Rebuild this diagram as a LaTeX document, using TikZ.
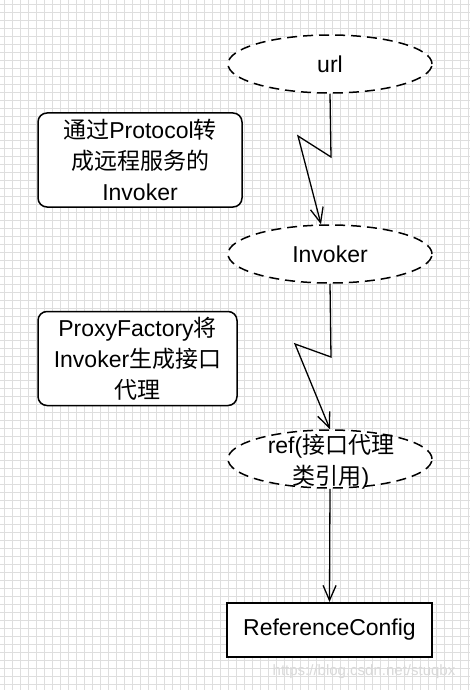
\documentclass[tikz,border=0pt]{standalone}
\usepackage{fontspec}
\setmainfont{Liberation Sans}
\newfontfamily\cjk{Noto Sans CJK SC}
\newcommand\zh[1]{{\cjk #1}}
\usetikzlibrary{arrows.meta,shapes.geometric}
\definecolor{gridc}{RGB}{222,222,222}
\begin{document}
\begin{tikzpicture}[x=1pt,y=-1pt,
  txt/.style={font=\fontsize{23}{31}\selectfont, align=center, inner sep=0pt},
  dashell/.style={draw, ellipse, dash pattern=on 10pt off 6pt, line width=1.5pt, fill=white, minimum width=204pt, minimum height=58pt, inner sep=0pt},
  notebox/.style={draw, rounded corners=9pt, line width=1.5pt, fill=white, minimum height=94pt, inner sep=0pt, font=\fontsize{23}{31}\selectfont, align=center},
  cfgbox/.style={draw, line width=2pt, fill=white, minimum width=205pt, minimum height=54pt, inner sep=0pt, font=\fontsize{23}{31}\selectfont},
  arr/.style={-{Straight Barb[length=15pt,width=13pt]}, line width=1.3pt},
  gridline/.style={gridc, line width=0.9pt},
]
\useasboundingbox (0,0) rectangle (470,690);
\fill[white] (0,0) rectangle (470,690);
\foreach \i in {0,...,58} {
  \draw[gridline] ({4.3+8*\i},0) -- ({4.3+8*\i},690);
}
\foreach \j in {0,...,86} {
  \draw[gridline] (0,{4.3+8*\j}) -- (470,{4.3+8*\j});
}

% ellipses
\node[dashell] (url) at (330,64) {};
\node[txt] (urlt) at (url.center) {url};
\node[dashell] (inv) at (330,254) {};
\node[txt] (invt) at (inv.center) {Invoker};
\node[dashell] (ref) at (330,459) {};
\node[txt] (reft) at (331,462) {ref(\zh{接口代理}\\\zh{类引用})};

% config box
\node[cfgbox] (cfg) at (329.5,630) {ReferenceConfig};

% note boxes
\node[notebox, minimum width=204pt] (n1) at (140,160) {\zh{通过}Protocol\zh{转}\\\zh{成远程服务的}\\Invoker};
\node[notebox, minimum width=199pt] (n2) at (137.5,358.5) {ProxyFactory\zh{将}\\Invoker\zh{生成接口}\\\zh{代理}};

% connectors
\coordinate (a1) at (331,157);
\coordinate (a2) at (298,136);
\draw[arr] (url.south) -- (a1) -- (a2) -- ([xshift=-9pt]inv.north);
\coordinate (b1) at (331,357);
\coordinate (b2) at (295,344);
\draw[arr] (inv.south) -- (b1) -- (b2) -- (ref.north);
\draw[arr] (ref.south) -- (cfg.north);

% watermark
\node[font=\fontsize{15}{18}\selectfont, text=gray!30, inner sep=0pt] (wm) at (364,672) {https://blog.csdn.net/stuqbx};
\end{tikzpicture}
\end{document}
